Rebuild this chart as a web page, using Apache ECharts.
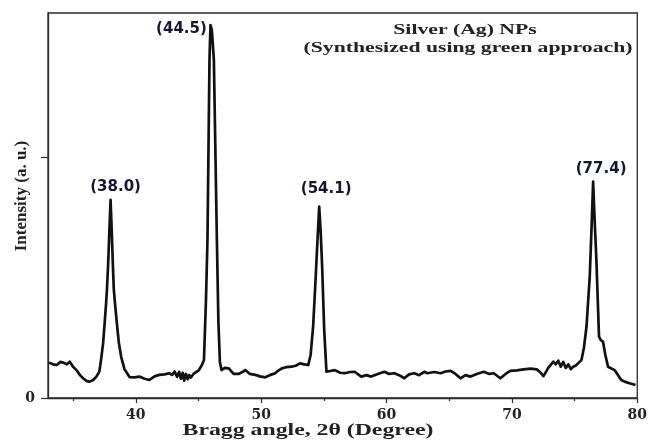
<!DOCTYPE html>
<html>
<head>
<meta charset="utf-8">
<script src="https://cdn.jsdelivr.net/npm/echarts@6/dist/echarts.min.js"></script>
<style>html,body{margin:0;padding:0;background:#fff;}#c{width:650px;height:442px;}</style>
</head>
<body>
<div id="c"></div>
<script>
// Bragg angle 2θ (degrees) and intensity (a.u.)
var angles = [33.08,33.40,33.69,34.00,34.21,34.50,34.74,35.00,35.27,35.55,35.80,36.10,36.33,36.60,36.86,37.10,37.26,37.40,37.52,37.63,37.70,37.80,37.90,37.99,38.08,38.17,38.25,38.35,38.49,38.65,38.84,39.10,39.50,39.90,40.29,40.70,41.08,41.50,41.87,42.30,42.67,42.90,43.10,43.30,43.46,43.60,43.75,43.86,44.00,44.15,44.25,44.40,44.60,45.04,45.30,45.44,45.60,45.72,45.80,45.88,45.96,46.07,46.23,46.35,46.47,46.59,46.71,46.84,47.10,47.42,47.80,48.21,48.50,48.74,49.10,49.54,49.90,50.33,50.70,51.12,51.40,51.65,52.00,52.44,52.80,53.10,53.45,53.76,53.95,54.15,54.33,54.48,54.63,54.75,54.87,55.03,55.21,55.50,55.88,56.30,56.67,57.10,57.46,57.98,58.40,58.78,59.30,59.84,60.20,60.63,61.00,61.42,61.80,62.22,62.60,63.01,63.27,63.80,64.32,64.70,65.12,65.50,65.91,66.30,66.70,67.20,67.76,68.20,68.55,69.08,69.50,69.87,70.40,70.93,71.50,71.99,72.30,72.52,72.90,73.31,73.50,73.70,73.90,74.10,74.30,74.50,74.70,74.89,75.10,75.30,75.55,75.75,75.95,76.21,76.35,76.48,76.60,76.74,76.95,77.10,77.27,77.45,77.67,78.19,78.72,79.00,79.38,79.86];
var intensity = [147,140,137,150,147,140,151,130,116,95,82,70,68,75,89,110,170,230,312,390,449,560,700,823,700,560,449,390,312,230,170,120,87,86,89,80,75,90,96,98,103,96,110,88,109,80,105,72,100,78,95,85,100,116,140,158,407,657,1031,1405,1550,1529,1405,1031,657,320,150,116,125,123,100,100,108,116,100,96,90,86,95,103,115,123,128,130,135,144,140,137,180,300,480,640,795,690,540,283,109,112,116,105,103,108,109,89,95,89,100,109,100,103,95,82,98,103,95,109,103,108,103,110,113,100,82,95,89,100,109,100,103,82,100,113,115,119,122,119,105,91,125,151,140,155,130,150,125,140,120,130,135,145,158,210,296,504,700,899,740,574,255,240,234,180,130,116,75,68,61,54];

// Peak annotations
var peakLabels = ['(38.0)', '(44.5)', '(54.1)', '(77.4)'];
var peakAngles = [37.99, 45.96, 54.63, 76.48];
var peakValues = [823, 1550, 795, 899];

var xMajorTicks = [40, 50, 60, 70, 80];
var xMinorTicks = [35, 45, 55, 65, 75];
var yTicks = [0, 1000];
var yLabels = [0];

var titleLines = ['Silver (Ag) NPs', '(Synthesized using green approach)'];
var xName = 'Bragg angle, 2\u03b8 (Degree)';
var yName = 'Intensity (a. u.)';

var peakOffsets = [[5, -13], [-29, 4], [7, -18], [8, -13]];

var chart = echarts.init(document.getElementById('c'), null, {renderer: 'canvas'});

var lineData = angles.map(function (a, i) { return [a, intensity[i]]; });
var mpData = peakLabels.map(function (t, i) {
  return {
    name: t,
    coord: [peakAngles[i], peakValues[i]],
    label: {offset: peakOffsets[i]}
  };
});

var axisColor = '#2a2a2a';
var serif = '"Liberation Serif", "Times New Roman", serif';

chart.setOption({
  animation: false,
  backgroundColor: '#ffffff',
  grid: {left: 48, right: 9, top: 13, bottom: 44, show: true, borderColor: axisColor, borderWidth: 1.3, backgroundColor: 'transparent'},
  xAxis: [{
    type: 'value', min: 33, max: 80, gridIndex: 0, position: 'bottom',
    axisLine: {show: true, onZero: false, lineStyle: {color: axisColor, width: 1.3}},
    axisTick: {show: true, inside: false, length: 5, customValues: xMajorTicks, lineStyle: {color: axisColor, width: 1.2}},
    axisLabel: {show: true, margin: 10, customValues: xMajorTicks, color: '#222', fontFamily: '"DejaVu Serif", serif', fontWeight: 'bold', fontSize: 14},
    splitLine: {show: false}
  }, {
    type: 'value', min: 33, max: 80, gridIndex: 0, position: 'bottom',
    axisLine: {show: false},
    axisTick: {show: true, inside: false, length: 3, customValues: xMinorTicks, lineStyle: {color: axisColor, width: 1.2}},
    axisLabel: {show: false},
    splitLine: {show: false}
  }],
  yAxis: {
    type: 'value', min: 0, max: 1600,
    axisLine: {show: true, onZero: false, lineStyle: {color: axisColor, width: 1.3}},
    axisTick: {show: true, inside: false, length: 7, customValues: yTicks, lineStyle: {color: axisColor, width: 1.2}},
    axisLabel: {show: true, margin: 13, customValues: yLabels, color: '#222', fontFamily: '"DejaVu Serif", serif', fontWeight: 'bold', fontSize: 14},
    splitLine: {show: false}
  },
  series: [{
    type: 'line',
    xAxisIndex: 0,
    data: lineData,
    showSymbol: false,
    symbol: 'none',
    smooth: false,
    lineStyle: {color: '#111111', width: 2.7, join: 'round'},
    markPoint: {
      symbol: 'circle',
      symbolSize: 1,
      itemStyle: {color: 'rgba(0,0,0,0)'},
      label: {
        show: true, position: 'inside', formatter: '{b}',
        color: '#151535', fontFamily: '"DejaVu Sans", sans-serif', fontWeight: 'bold', fontSize: 15
      },
      data: mpData
    }
  }],
  graphic: [
    {type: 'text', x: 465, y: 30, scaleX: 1.4, style: {text: titleLines[0], fill: '#222', font: 'bold 15.5px ' + serif, textAlign: 'center', textVerticalAlign: 'middle'}},
    {type: 'text', x: 468, y: 48, scaleX: 1.4, style: {text: titleLines[1], fill: '#222', font: 'bold 15.5px ' + serif, textAlign: 'center', textVerticalAlign: 'middle'}},
    {type: 'text', x: 308, y: 431, scaleX: 1.44, style: {text: xName, fill: '#222', font: 'bold 16.5px ' + serif, textAlign: 'center', textVerticalAlign: 'middle'}},
    {type: 'text', x: 22, y: 196, rotation: Math.PI / 2, style: {text: yName, fill: '#222', font: 'bold 17px ' + serif, textAlign: 'center', textVerticalAlign: 'middle'}}
  ]
});
</script>
</body>
</html>
